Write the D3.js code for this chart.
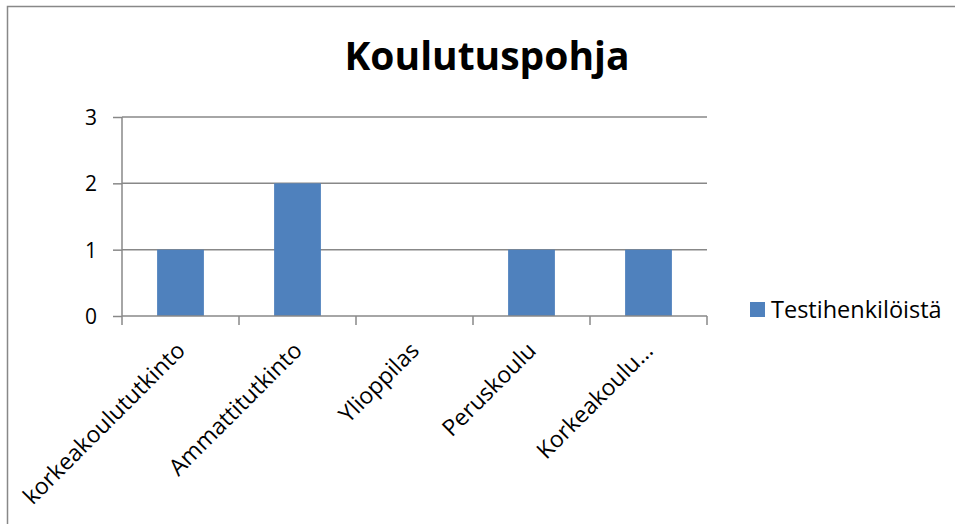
<!DOCTYPE html>
<html>
<head>
<meta charset="utf-8">
<script src="https://cdn.jsdelivr.net/npm/d3@7"></script>
<style>
  body { margin: 0; background: #fff; }
  svg { display: block; }
  text { font-family: "Open Sans", sans-serif; fill: #000; }
</style>
</head>
<body>
<div id="chart"></div>
<script>
// data
var categories = ["korkeakoulututkinto", "Ammattitutkinto", "Ylioppilas", "Peruskoulu", "Korkeakoulu…"];
var values = [1, 2, 0, 1, 1];
var seriesName = "Testihenkilöistä";
var yTicks = [0, 1, 2, 3];
var title = "Koulutuspohja";

var width = 955, height = 524;
var plot = { left: 122, right: 707, top: 117, bottom: 316 };

var svg = d3.select("#chart").append("svg")
    .attr("width", width)
    .attr("height", height);

// outer chart border (runs off the right and bottom edge)
svg.append("rect")
    .attr("x", 7.5).attr("y", 6.5)
    .attr("width", 1000).attr("height", 600)
    .attr("fill", "none")
    .attr("stroke", "#888")
    .attr("stroke-width", 1.5);

var x = d3.scaleBand()
    .domain(categories)
    .range([plot.left, plot.right])
    .paddingInner(0.6)
    .paddingOuter(0.3);

var xTicks = d3.scaleBand()
    .domain(categories)
    .range([plot.left, plot.right]);

var y = d3.scaleLinear()
    .domain([0, 3])
    .range([plot.bottom, plot.top]);

// gridlines
svg.append("g").selectAll("line")
    .data(yTicks.filter(function(d) { return d > 0; }))
    .enter().append("line")
    .attr("x1", plot.left).attr("x2", plot.right)
    .attr("y1", function(d) { return y(d); })
    .attr("y2", function(d) { return y(d); })
    .attr("stroke", "#888")
    .attr("stroke-width", 1.5);

// y axis
var yAxis = svg.append("g")
    .attr("transform", "translate(" + plot.left + ",0)")
    .call(d3.axisLeft(y).tickValues(yTicks).tickSize(9).tickPadding(16).tickFormat(d3.format("d")));
yAxis.selectAll("line, path").attr("stroke", "#888").attr("stroke-width", 1.5);
yAxis.select(".domain").attr("d", "M0," + plot.top + "V" + plot.bottom);
yAxis.selectAll("text")
    .style("font-size", "21px")
    .style("font-family", "'Open Sans', sans-serif")
    .attr("dy", "0.36em");

// bars
svg.append("g").selectAll("rect")
    .data(values)
    .enter().append("rect")
    .attr("x", function(d, i) { return x(categories[i]); })
    .attr("width", x.bandwidth())
    .attr("y", function(d) { return y(d); })
    .attr("height", function(d) { return y(0) - y(d); })
    .attr("fill", "#4F81BD");

// x axis
var xAxis = svg.append("g")
    .attr("transform", "translate(0," + plot.bottom + ")");
xAxis.append("line")
    .attr("x1", plot.left).attr("x2", plot.right)
    .attr("stroke", "#888").attr("stroke-width", 1.5);
var bounds = categories.map(function(c) { return xTicks(c); }).concat([plot.right]);
xAxis.selectAll(".tick")
    .data(bounds)
    .enter().append("line")
    .attr("x1", function(d) { return d; })
    .attr("x2", function(d) { return d; })
    .attr("y1", 0).attr("y2", 9)
    .attr("stroke", "#888").attr("stroke-width", 1.5);

xAxis.selectAll("text")
    .data(categories)
    .enter().append("text")
    .attr("transform", function(d) {
      return "translate(" + (xTicks(d) + xTicks.bandwidth() / 2 + 6) + ",36) rotate(-45)";
    })
    .attr("text-anchor", "end")
    .style("font-size", "23px")
    .text(function(d) { return d; });

// title
svg.append("text")
    .attr("x", 487)
    .attr("y", 70)
    .attr("text-anchor", "middle")
    .style("font-size", "39px")
    .style("font-weight", "bold")
    .text(title);

// legend
var legend = svg.append("g").attr("transform", "translate(750,302)");
legend.append("rect")
    .attr("width", 15).attr("height", 15)
    .attr("fill", "#4F81BD");
legend.append("text")
    .attr("x", 21).attr("y", 16)
    .style("font-size", "23.5px")
    .text(seriesName);
</script>
</body>
</html>
